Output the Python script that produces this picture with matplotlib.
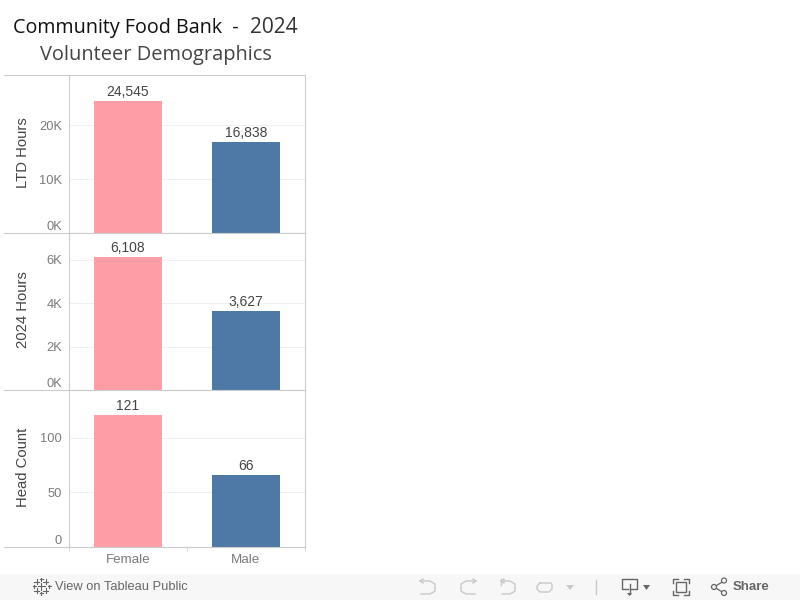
import matplotlib
matplotlib.use("Agg")
from matplotlib import pyplot as plt
from matplotlib.patches import Rectangle, Circle

categories = ["Female", "Male"]
ltd_hours = [24545, 16838]
hours_2024 = [6108, 3627]
head_count = [121, 66]
bar_colors = ["#ff9da7", "#4e79a7"]

W, H = 800, 600
GRID = "#f0f0f0"
BORDER = "#cccccc"
plt.rcParams["font.family"] = ["Liberation Sans", "DejaVu Sans"]

fig = plt.figure(figsize=(8, 6), dpi=100, facecolor="white")


def add_panel(top, bottom, values, ymax, ticks, ticklabels, ylabel, labels):
    ax = fig.add_axes([69 / W, 1 - bottom / H, 236 / W, (bottom - top) / H])
    ax.bar(categories, values, width=0.575, color=bar_colors, zorder=3)
    ax.set_xlim(-0.5, 1.5)
    ax.set_ylim(0, ymax)
    ax.set_yticks(ticks)
    ax.set_yticklabels(ticklabels, fontsize=9.3, color="#7a7a7a")
    for lab, t in zip(ax.get_yticklabels(), ticks):
        if t == 0:
            lab.set_va("bottom")
    ax.tick_params(axis="y", length=0, pad=5)
    ax.set_xticks([])
    ax.grid(axis="y", color=GRID, linewidth=0.8, zorder=0)
    for side in ax.spines.values():
        side.set_color(BORDER)
        side.set_linewidth(0.8)
    ax.spines["top"].set_visible(False)
    fig.text(23 / W, 1 - ((top + bottom) / 2 - 1.5) / H, ylabel, rotation=90, fontsize=10.7,
             color="#444444", ha="center", va="center")
    for i, v in enumerate(values):
        ax.annotate(labels[i], (i, v), xytext=(0, 1.3), textcoords="offset points",
                    ha="center", va="bottom", fontsize=10, color="#444444", zorder=4)
    return ax


add_panel(75, 233, ltd_hours, 29300, [0, 10000, 20000], ["0K", "10K", "20K"],
          "LTD Hours", ["24,545", "16,838"])
add_panel(233, 390, hours_2024, 7220, [0, 2000, 4000, 6000], ["0K", "2K", "4K", "6K"],
          "2024 Hours", ["6,108", "3,627"])
ax3 = add_panel(390, 547, head_count, 144, [0, 50, 100], ["0", "50", "100"],
                "Head Count", ["121", "66"])
ax3.set_xticks([-0.5, 0.5, 1.5])
ax3.set_xticklabels([])
ax3.set_xticks([0, 1], labels=categories, minor=True)
ax3.tick_params(axis="x", which="major", length=3, color="#dddddd")
ax3.tick_params(axis="x", which="minor", length=0, pad=5, labelsize=9.6, labelcolor="#7a7a7a")

# pixel overlay for frame, title and toolbar
ov = fig.add_axes([0, 0, 1, 1], zorder=10)
ov.set_xlim(0, W)
ov.set_ylim(H, 0)
ov.axis("off")
ov.patch.set_alpha(0)

for y in [75, 233, 390, 547]:
    ov.plot([4, 305], [y, y], color=BORDER, lw=0.8)

ov.text(13, 27.5, "Community Food Bank  -", fontsize=14.2, color="#111111", family="Open Sans",
        ha="left", va="center")
ov.text(250, 27.5, "2024", fontsize=15, color="#333333", family="Open Sans", ha="left", va="center")
ov.text(155.5, 55, "Volunteer Demographics", fontsize=14.4, color="#444444", family="Open Sans",
        ha="center", va="center")

# toolbar
ov.add_patch(Rectangle((0, 574), 800, 26, color="#f7f7f7", lw=0))
GREY = "#666666"
FADED = "#c9c9c9"
logo = [(41, 586, 3.5), (36.5, 581.5, 2.5), (45.5, 581.5, 2.5), (36.5, 590.5, 2.5), (45.5, 590.5, 2.5),
        (41, 579, 1.5), (41, 593, 1.5), (34, 586, 1.5), (49, 586, 1.5)]
for cx, cy, r in logo:
    ov.plot([cx - r, cx + r], [cy, cy], color=GREY, lw=0.8)
    ov.plot([cx, cx], [cy - r, cy + r], color=GREY, lw=0.8)
ov.text(55, 587, "View on Tableau Public", fontsize=9.3, color=GREY, va="center", family="Liberation Sans")

# undo / redo / revert / refresh
ov.plot([420, 430, 435, 435, 430, 421], [581, 581, 584, 591, 594, 594], color=FADED, lw=1)
ov.plot([423, 420, 423], [579, 581, 583], color=FADED, lw=1)
ov.plot([476, 466, 461, 461, 466, 475], [581, 581, 584, 591, 594, 594], color=FADED, lw=1)
ov.plot([473, 476, 473], [579, 581, 583], color=FADED, lw=1)
ov.plot([501, 510, 515, 515, 510, 502], [581, 581, 584, 591, 594, 594], color=FADED, lw=1)
ov.plot([501, 501], [579, 585], color=FADED, lw=1)
ov.plot([504, 501, 504], [579, 581, 583], color=FADED, lw=1)
ov.plot([540, 551, 552, 552, 549, 540, 537, 537, 540], [583, 583, 585, 589, 592, 592, 589, 586, 583],
        color=FADED, lw=1)
ov.fill([566, 574, 570], [585, 585, 590], color=FADED, lw=0)
ov.plot([596, 596], [580, 594], color=FADED, lw=1)

# download
ov.plot([628, 622, 622, 637, 637, 631], [589, 589, 579, 579, 589, 589], color=GREY, lw=1)
ov.plot([629.5, 629.5], [584, 594], color=GREY, lw=1)
ov.fill([627, 632, 629.5], [593, 593, 596], color=GREY, lw=0)
ov.fill([643, 650, 646.5], [585, 585, 590], color=GREY, lw=0)

# fullscreen
ov.add_patch(Rectangle((676, 582), 10, 10, fill=False, ec=GREY, lw=1))
for xs, ys in [([673, 673, 678], [583, 579, 579]), ([684, 689, 689], [579, 579, 583]),
               ([673, 673, 678], [591, 595, 595]), ([684, 689, 689], [595, 595, 591])]:
    ov.plot(xs, ys, color=GREY, lw=1)

# share
ov.plot([714, 724], [587, 581], color=GREY, lw=0.9)
ov.plot([714, 724], [587, 593], color=GREY, lw=0.9)
for cx, cy in [(714, 587), (724, 580.5), (724, 593)]:
    ov.add_patch(Circle((cx, cy), 2.5, fc="#f7f7f7", ec=GREY, lw=0.9, zorder=5))
ov.text(733, 587, "Share", fontsize=9.5, color=GREY, va="center", fontweight="bold", family="Liberation Sans")

plt.savefig("out.png", dpi=100)
